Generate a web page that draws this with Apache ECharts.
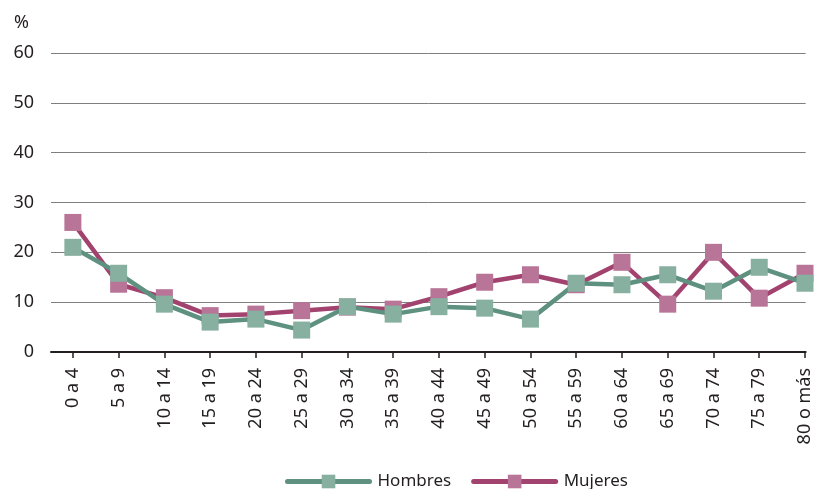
<!DOCTYPE html>
<html>
<head>
<meta charset="utf-8">
<script src="https://cdn.jsdelivr.net/npm/echarts@6/dist/echarts.min.js"></script>
<style>
  html, body { margin: 0; padding: 0; background: #fff; }
  #chart { width: 814px; height: 489px; }
</style>
</head>
<body>
<div id="chart"></div>
<script>
// grupos de edad
const categories = ['0 a 4', '5 a 9', '10 a 14', '15 a 19', '20 a 24', '25 a 29', '30 a 34', '35 a 39',
  '40 a 44', '45 a 49', '50 a 54', '55 a 59', '60 a 64', '65 a 69', '70 a 74', '75 a 79', '80 o más'];
const hombres = [21.0, 15.8, 9.6, 6.0, 6.6, 4.4, 9.1, 7.6, 9.1, 8.8, 6.6, 13.8, 13.5, 15.5, 12.2, 17.0, 13.8];
const mujeres = [26.0, 13.6, 10.9, 7.3, 7.6, 8.3, 9.0, 8.6, 11.1, 14.0, 15.5, 13.5, 18.0, 9.6, 20.0, 10.8, 15.8];
const yTicks = [0, 10, 20, 30, 40, 50, 60];

const idx = categories.map((_, i) => i);
const toPoints = arr => arr.map((v, i) => [i, v]);

const font = 'Noto Sans';
const chart = echarts.init(document.getElementById('chart'));

chart.setOption({
  animation: false,
  title: {
    text: '%', left: 9, top: 9,
    textStyle: { fontFamily: font, fontSize: 18, fontWeight: 'normal', color: '#231f20' }
  },
  grid: { left: 51, right: 4, top: 53, bottom: 137 },
  legend: {
    top: 468, left: 280,
    itemWidth: 82, itemHeight: 17, itemGap: 20,
    textStyle: { fontFamily: font, fontSize: 17, color: '#231f20', padding: [0, 0, 0, 3] },
    lineStyle: { width: 5 },
    data: ['Hombres', 'Mujeres']
  },
  xAxis: {
    type: 'value',
    min: -0.478, max: 16.015,
    axisLine: { onZero: false, lineStyle: { color: '#231f20', width: 2 } },
    axisTick: { show: true, length: 6, customValues: idx, lineStyle: { color: '#231f20', width: 1.5 } },
    axisLabel: {
      customValues: idx,
      rotate: 90, margin: 16,
      fontFamily: font, fontSize: 18, color: '#231f20',
      formatter: v => categories[Math.round(v)]
    },
    splitLine: { show: false }
  },
  yAxis: {
    type: 'value',
    min: yTicks[0], max: yTicks[yTicks.length - 1], interval: 10,
    axisLine: { show: false },
    axisTick: { show: false },
    axisLabel: { margin: 17, fontFamily: font, fontSize: 18, color: '#231f20' },
    splitLine: { lineStyle: { color: '#7f7f7f', width: 1 } }
  },
  series: [
    {
      name: 'Hombres', type: 'line',
      data: toPoints(hombres),
      symbol: 'rect', symbolSize: 17,
      lineStyle: { color: '#5e917f', width: 4.5, cap: 'round' },
      itemStyle: { color: '#88b0a1' },
      z: 3
    },
    {
      name: 'Mujeres', type: 'line',
      data: toPoints(mujeres),
      symbol: 'rect', symbolSize: 17,
      lineStyle: { color: '#a2426f', width: 4.5, cap: 'round' },
      itemStyle: { color: '#b87597' },
      z: 2
    }
  ]
});
</script>
</body>
</html>
